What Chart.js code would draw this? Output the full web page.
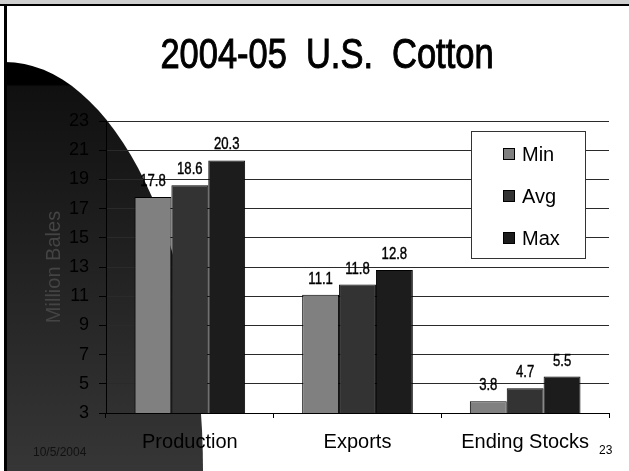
<!DOCTYPE html>
<html lang="en">
<head>
  <meta charset="UTF-8">
  <title>2004-05 U.S. Cotton</title>
  <script src="https://cdn.jsdelivr.net/npm/chart.js"></script>
  <style>
    html, body { margin: 0; padding: 0; background: #fff; }
    canvas { display: block; }
  </style>
</head>
<body>
  <canvas id="chart" width="629" height="471"></canvas>

  <script>
    const categories = ['Production', 'Exports', 'Ending Stocks'];
    const seriesNames = ['Min', 'Avg', 'Max'];
    const minValues = [17.8, 11.1, 3.8];
    const avgValues = [18.6, 11.8, 4.7];
    const maxValues = [20.3, 12.8, 5.5];
    const yTickValues = [3, 5, 7, 9, 11, 13, 15, 17, 19, 21, 23];
    const chartTitle = '2004-05  U.S.  Cotton';
    const axisTitle = 'Million Bales';
    const slideDate = '10/5/2004';
    const slideNumber = '23';

    const barColors = ['#808080', '#333333', '#1c1c1c'];
    const SANS = '"Liberation Sans", Arial, sans-serif';

    // no narrow face installed, so squeeze the regular one
    function narrowText(ctx, text, x, y, squeeze, stroke) {
      ctx.save();
      ctx.translate(x, y);
      ctx.scale(squeeze, 1);
      ctx.fillText(text, 0, 0);
      if (stroke) {
        ctx.lineWidth = stroke;
        ctx.strokeStyle = ctx.fillStyle;
        ctx.strokeText(text, 0, 0);
      }
      ctx.restore();
    }

    // slide artwork: frame, dark swoosh on the left, title, footer
    const slidePlugin = {
      id: 'slide',
      beforeDraw(chart) {
        const ctx = chart.ctx;
        ctx.save();
        ctx.fillStyle = '#fff';
        ctx.fillRect(0, 0, chart.width, chart.height);

        const g = ctx.createLinearGradient(0, 62, 0, 471);
        g.addColorStop(0, '#000');
        g.addColorStop(0.055, '#000');
        g.addColorStop(0.06, '#101010');
        g.addColorStop(1, '#363636');
        ctx.fillStyle = g;
        ctx.beginPath();
        ctx.moveTo(5, 471);
        ctx.ellipse(5, 471, 198, 409, 0, -Math.PI / 2, 0);
        ctx.closePath();
        ctx.fill();

        ctx.fillStyle = '#cfcfcf';
        ctx.fillRect(0, 0, chart.width, 4);
        ctx.fillStyle = '#000';
        ctx.fillRect(0, 4, chart.width, 2);
        ctx.fillRect(4, 4, 3, chart.height - 4);

        ctx.fillStyle = '#000';
        ctx.font = '42px ' + SANS;
        ctx.textAlign = 'center';
        ctx.textBaseline = 'alphabetic';
        narrowText(ctx, chartTitle, 327, 68, 0.82, 1);
        ctx.restore();
      },
      afterDraw(chart) {
        const ctx = chart.ctx;
        ctx.save();
        ctx.textBaseline = 'alphabetic';
        ctx.font = '12px ' + SANS;
        ctx.fillStyle = '#111';
        ctx.textAlign = 'left';
        ctx.fillText(slideDate, 33, 456);
        ctx.fillStyle = '#000';
        ctx.fillText(slideNumber, 599, 454);

        // legend box
        ctx.fillStyle = '#fff';
        ctx.fillRect(471, 131, 115, 128);
        ctx.strokeStyle = '#333';
        ctx.lineWidth = 1;
        ctx.strokeRect(471.5, 131.5, 114, 127);
        ctx.font = '20px ' + SANS;
        ctx.textBaseline = 'middle';
        chart.data.datasets.forEach((ds, i) => {
          const cy = 154 + i * 42;
          ctx.fillStyle = ds.backgroundColor;
          ctx.fillRect(503, cy - 6, 12, 12);
          ctx.strokeStyle = '#000';
          ctx.strokeRect(503.5, cy - 5.5, 11, 11);
          ctx.fillStyle = '#000';
          ctx.fillText(ds.label, 522, cy + 1);
        });
        ctx.restore();
      },
      afterDatasetsDraw(chart) {
        const ctx = chart.ctx;
        ctx.save();
        ctx.font = '16px ' + SANS;
        ctx.fillStyle = '#000';
        ctx.textAlign = 'center';
        ctx.textBaseline = 'alphabetic';
        chart.data.datasets.forEach((ds, i) => {
          chart.getDatasetMeta(i).data.forEach((bar, j) => {
            narrowText(ctx, ds.data[j].toFixed(1), bar.x, bar.y - 11, 0.82, 0.4);
          });
        });
        ctx.restore();
      }
    };

    const values = [minValues, avgValues, maxValues];

    new Chart(document.getElementById('chart'), {
      type: 'bar',
      data: {
        labels: categories,
        datasets: seriesNames.map((name, i) => ({
          label: name,
          data: values[i],
          backgroundColor: barColors[i],
          borderColor: '#000',
          borderWidth: 1,
          categoryPercentage: 0.66,
          barPercentage: 1.0
        }))
      },
      options: {
        responsive: false,
        animation: false,
        devicePixelRatio: 1,
        layout: { padding: { top: 121, right: 20, left: 0, bottom: 0 } },
        plugins: {
          legend: { display: false },
          title: { display: false },
          tooltip: { enabled: false }
        },
        scales: {
          x: {
            grid: {
              offset: true,
              drawOnChartArea: true,
              color: c => c.index === categories.length ? '#808080' : 'rgba(0,0,0,0)',
              tickColor: '#000',
              tickLength: 5
            },
            border: { color: '#000', width: 1 },
            ticks: { color: '#000', font: { family: SANS, size: 20 }, padding: 12, maxRotation: 0 },
            afterFit: s => { s.height = 58; }
          },
          y: {
            min: 3,
            max: 23,
            afterBuildTicks: s => { s.ticks = yTickValues.map(v => ({ value: v })); },
            ticks: { color: '#000', font: { family: SANS, size: 18 }, padding: 10 },
            grid: { color: '#2a2a2a', tickColor: '#000', tickLength: 7 },
            border: { color: '#000', width: 1 },
            title: {
              display: true,
              text: axisTitle,
              color: '#444',
              font: { family: SANS, size: 20 },
              padding: { top: 42, bottom: 0 }
            },
            afterFit: s => { s.width = 106; }
          }
        }
      },
      plugins: [slidePlugin]
    });
  </script>
</body>
</html>
